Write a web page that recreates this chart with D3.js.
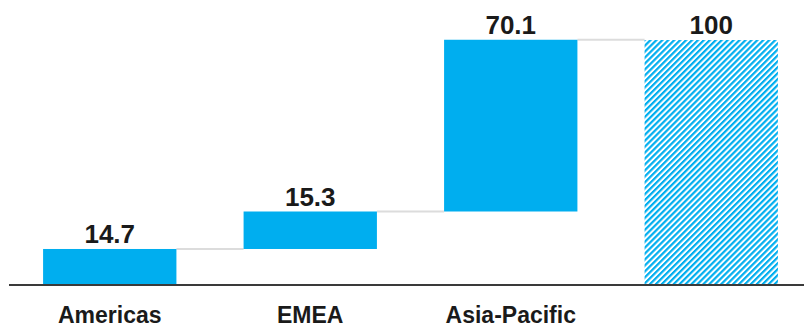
<!DOCTYPE html>
<html>
<head>
<meta charset="utf-8">
<script src="https://cdn.jsdelivr.net/npm/d3@7"></script>
<style>
  html, body { margin: 0; padding: 0; background: #fff; }
  svg { display: block; }
</style>
</head>
<body>
<svg id="chart" width="804" height="329"></svg>
<script>
// Regional contributions summing to a hatched total
const categories = ["Americas", "EMEA", "Asia-Pacific", "Total"];
const values = [14.7, 15.3, 70.1, 100];
const isTotal = [false, false, false, true];
const valueLabels = ["14.7", "15.3", "70.1", "100"];
const axisLabels = ["Americas", "EMEA", "Asia-Pacific", ""];

const W = 804, H = 329;
const blue = "#00AEEF";
const svg = d3.select("#chart");

// Waterfall segments: running start/end for each bar
let run = 0;
const segs = categories.map((c, i) => {
  if (isTotal[i]) return { c, i, y0: 0, y1: values[i] };
  const s = { c, i, y0: run, y1: run + values[i] };
  run += values[i];
  return s;
});

const x = d3.scaleBand().domain(categories).range([9, 812]).paddingInner(0.335).paddingOuter(0.17);
const y = d3.scaleLinear().domain([0, 100]).range([285, 40]);

// Diagonal hatch for the total bar
const defs = svg.append("defs");
const pat = defs.append("pattern")
  .attr("id", "hatch")
  .attr("patternUnits", "userSpaceOnUse")
  .attr("width", 4.2).attr("height", 4.2)
  .attr("patternTransform", "rotate(45)");
pat.append("rect").attr("width", 4.2).attr("height", 4.2).attr("fill", "#fff");
pat.append("rect").attr("x", 0).attr("width", 2.2).attr("height", 4.2).attr("fill", blue);

// Connector lines between consecutive bars
for (let k = 0; k < segs.length - 1; k++) {
  const a = segs[k], b = segs[k + 1];
  const level = a.y1;
  svg.append("line")
    .attr("x1", x(a.c) + x.bandwidth())
    .attr("x2", x(b.c))
    .attr("y1", y(level)).attr("y2", y(level))
    .attr("stroke", "#dcdcdc").attr("stroke-width", 2);
}

// Bars
svg.selectAll("rect.bar").data(segs).join("rect")
  .attr("class", "bar")
  .attr("x", d => x(d.c))
  .attr("width", x.bandwidth())
  .attr("y", d => y(d.y1))
  .attr("height", d => y(d.y0) - y(d.y1))
  .attr("fill", d => isTotal[d.i] ? "url(#hatch)" : blue);

// Baseline axis
const axis = d3.axisBottom(x).tickSize(0).tickFormat((d, i) => axisLabels[i]);
const gAxis = svg.append("g").attr("transform", `translate(0,${y(0)})`).call(axis);
gAxis.select(".domain").attr("stroke", "#3a3a3a").attr("stroke-width", 2)
  .attr("d", `M9,0H804`);
gAxis.selectAll("text")
  .attr("dy", 0).attr("y", 38)
  .attr("font-family", "Liberation Sans, Arial, sans-serif")
  .attr("font-weight", "bold").attr("font-size", 23)
  .attr("fill", "#1a1a1a");

// Value labels above each bar
svg.selectAll("text.val").data(segs).join("text")
  .attr("class", "val")
  .attr("x", d => x(d.c) + x.bandwidth() / 2)
  .attr("y", d => y(d.y1) - 6)
  .attr("text-anchor", "middle")
  .attr("font-family", "Liberation Sans, Arial, sans-serif")
  .attr("font-weight", "bold").attr("font-size", 26)
  .attr("fill", "#1a1a1a")
  .text(d => valueLabels[d.i]);
</script>
</body>
</html>
